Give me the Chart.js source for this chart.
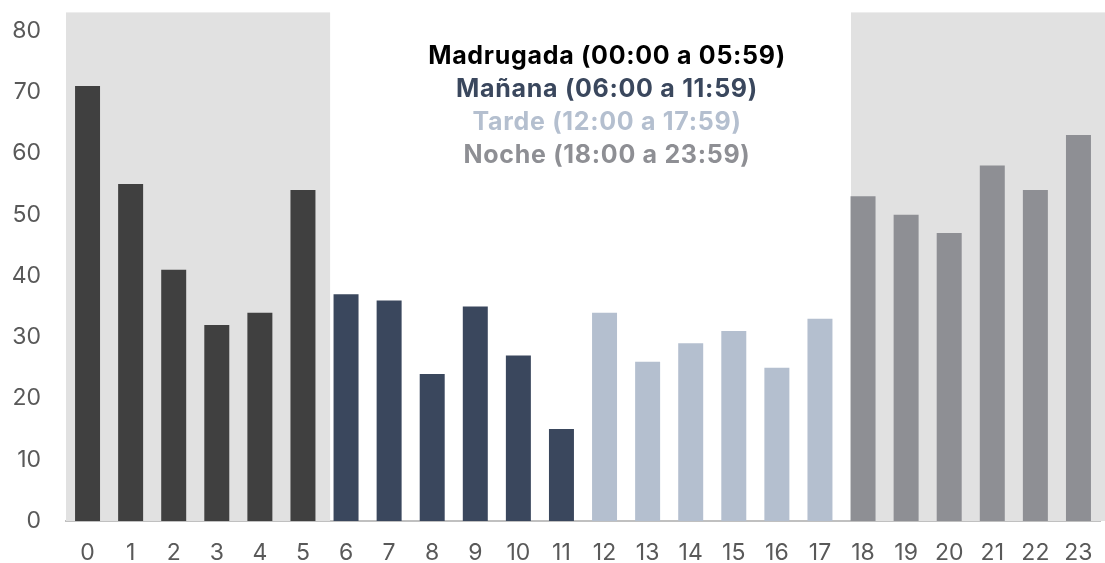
<!DOCTYPE html>
<html>
<head>
<meta charset="utf-8">
<script src="https://cdn.jsdelivr.net/npm/chart.js@4.4.0/dist/chart.umd.min.js"></script>
<style>
	html, body { margin: 0; padding: 0; background: #fff; }
	#wrap { width: 1105px; height: 563px; position: relative; }
</style>
</head>
<body>
<div id="wrap"><canvas id="hour-chart"></canvas></div>
<script>
// hours of the day and number of cases per hour
const hours = ['0','1','2','3','4','5','6','7','8','9','10','11','12','13','14','15','16','17','18','19','20','21','22','23'];
const cases = [71, 55, 41, 32, 34, 54, 37, 36, 24, 35, 27, 15, 34, 26, 29, 31, 25, 33, 53, 50, 47, 58, 54, 63];

// periods: label, first hour, last hour
const period_labels = ['Madrugada (00:00 a 05:59)', 'Mañana (06:00 a 11:59)', 'Tarde (12:00 a 17:59)', 'Noche (18:00 a 23:59)'];
const period_start = [0, 6, 12, 18];
const period_end = [5, 11, 17, 23];
const y_ticks = [0, 10, 20, 30, 40, 50, 60, 70, 80];

const period_colors = ['#404040', '#3a475d', '#b4bfcf', '#8e8f94'];
const text_colors = ['#000000', '#3a475d', '#b4bfcf', '#8e8f94'];

const bar_colors = cases.map((v, i) => {
	let p = period_start.findIndex((s, k) => i >= s && i <= period_end[k]);
	return period_colors[p];
});

// gray bands behind night hours
const bandPlugin = {
	id: 'bands',
	beforeDatasetsDraw(chart) {
		const ctx = chart.ctx;
		const x = chart.scales.x;
		const y = chart.scales.y;
		const cat = x.getPixelForValue(1) - x.getPixelForValue(0);
		const top = y.getPixelForValue(83);
		const bottom = y.getPixelForValue(0);
		ctx.save();
		ctx.fillStyle = '#e1e1e1';
		// madrugada
		let l = chart.chartArea.left;
		let r = x.getPixelForValue(period_end[0]) + cat * 0.63;
		ctx.fillRect(l, top, r - l, bottom - top);
		// noche
		l = x.getPixelForValue(period_start[3]) - cat * 0.28;
		r = chart.chartArea.right + 5;
		ctx.fillRect(l, top, r - l, bottom - top);
		ctx.restore();
	}
};

// period labels stacked at the top centre
const periodTextPlugin = {
	id: 'periodText',
	afterDraw(chart) {
		const ctx = chart.ctx;
		ctx.save();
		ctx.font = 'bold 25px Inter';
		ctx.letterSpacing = '0.7px';
		ctx.textAlign = 'center';
		ctx.textBaseline = 'middle';
		for (let i in period_labels) {
			ctx.fillStyle = text_colors[i];
			ctx.fillText(period_labels[i], 607, 56 + i * 33);
		}
		ctx.restore();
	}
};

const ctx = document.getElementById('hour-chart').getContext('2d');
const hour_chart = new Chart(ctx, {
	type: 'bar',
	data: {
		labels: hours,
		datasets: [{
			label: 'Casos',
			data: cases,
			backgroundColor: bar_colors,
			borderWidth: 0,
			categoryPercentage: 1,
			barPercentage: 0.58
		}]
	},
	options: {
		responsive: true,
		maintainAspectRatio: false,
		animation: false,
		layout: {
			padding: { top: 17, right: 5, left: 0, bottom: 0 }
		},
		scales: {
			x: {
				afterFit: (scale) => { scale.height = 42; },
				grid: { display: false },
				border: { display: true, color: '#c0c0c0', width: 2 },
				ticks: {
					color: '#595959',
					padding: 10,
					maxRotation: 0,
					autoSkip: false,
					font: { family: 'Inter', size: 23 }
				}
			},
			y: {
				min: 0,
				max: 80,
				afterBuildTicks: (scale) => { scale.ticks = y_ticks.map(v => ({ value: v })); },
				afterFit: (scale) => { scale.width = 66; },
				grid: { display: false },
				border: { display: false },
				ticks: {
					color: '#595959',
					padding: 17,
					font: { family: 'Inter', size: 23 }
				}
			}
		},
		plugins: {
			legend: { display: false },
			tooltip: { enabled: false }
		}
	},
	plugins: [bandPlugin, periodTextPlugin]
});
</script>
</body>
</html>
